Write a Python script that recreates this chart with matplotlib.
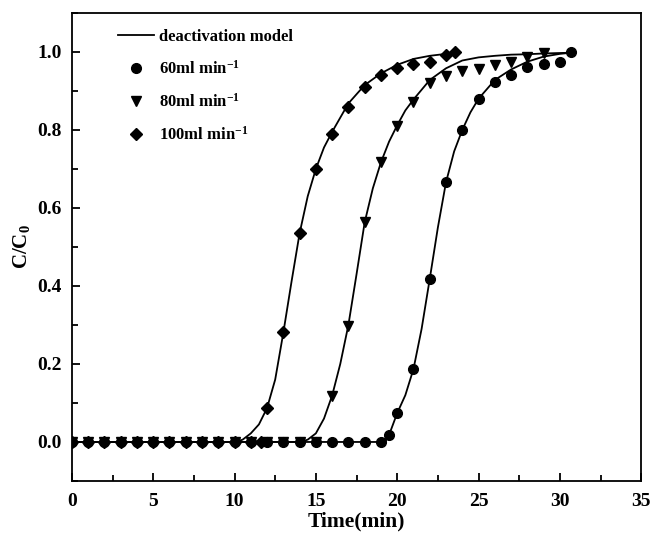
import matplotlib
matplotlib.use("Agg")
import matplotlib.pyplot as plt
from matplotlib.lines import Line2D
from matplotlib.ticker import MultipleLocator

plt.rcParams["font.family"] = "Liberation Serif"
plt.rcParams["font.weight"] = "bold"
plt.rcParams["mathtext.fontset"] = "custom"
plt.rcParams["mathtext.rm"] = "Liberation Serif:bold"
plt.rcParams["mathtext.it"] = "Liberation Serif:bold:italic"
plt.rcParams["mathtext.bf"] = "Liberation Serif:bold"

# measured breakthrough points
t_60 = list(range(0, 20)) + [19.5, 20, 21, 22, 23, 24, 25, 26, 27, 28, 29, 30, 30.7]
c_60 = [0.0] * 20 + [0.018, 0.074, 0.187, 0.418, 0.666, 0.800, 0.880, 0.922,
                     0.942, 0.962, 0.969, 0.975, 1.000]

t_80 = list(range(0, 16)) + [16, 17, 18, 19, 20, 21, 22, 23, 24, 25, 26, 27, 28, 29]
c_80 = [0.0] * 16 + [0.119, 0.298, 0.563, 0.717, 0.810, 0.872, 0.921, 0.938,
                     0.951, 0.956, 0.967, 0.974, 0.987, 0.998]

t_100 = list(range(0, 12)) + [11.6, 12, 13, 14, 15, 16, 17, 18, 19, 20, 21, 22, 23, 23.55]
c_100 = [0.0] * 13 + [0.087, 0.281, 0.535, 0.699, 0.790, 0.858, 0.909, 0.942,
                      0.959, 0.968, 0.974, 0.991, 1.000]

# deactivation model fits
fit_t_60 = [0, 19.25, 19.5, 20, 20.5, 21, 21.5, 22, 22.5, 23, 23.5, 24, 24.5,
            25, 26, 27, 28, 29, 30, 30.7]
fit_c_60 = [0, 0, 0.018, 0.074, 0.12, 0.187, 0.29, 0.418, 0.55, 0.666, 0.745,
            0.80, 0.845, 0.88, 0.928, 0.955, 0.975, 0.988, 0.995, 0.998]

fit_t_80 = [0, 14.1, 14.5, 15, 15.5, 16, 16.5, 17, 17.5, 18, 18.5, 19, 19.5,
            20, 20.5, 21, 22, 23, 24, 25, 26, 27, 28, 29, 30.7]
fit_c_80 = [0, 0, 0.006, 0.022, 0.06, 0.119, 0.20, 0.30, 0.43, 0.563, 0.65,
            0.717, 0.77, 0.812, 0.85, 0.878, 0.928, 0.958, 0.978, 0.986, 0.99,
            0.993, 0.994, 0.996, 0.998]

fit_t_100 = [0, 10.1, 10.5, 11, 11.5, 12, 12.5, 13, 13.5, 14, 14.5, 15, 15.5,
             16, 17, 18, 19, 20, 21, 22, 23, 23.6]
fit_c_100 = [0, 0, 0.006, 0.022, 0.045, 0.087, 0.16, 0.28, 0.41, 0.535, 0.63,
             0.70, 0.755, 0.795, 0.868, 0.915, 0.945, 0.967, 0.982, 0.99, 0.995,
             0.997]

fig = plt.figure(figsize=(6.53, 5.38), dpi=100)
ax = fig.add_axes([0.110, 0.106, 0.872, 0.870])

for ft, fc in [(fit_t_60, fit_c_60), (fit_t_80, fit_c_80), (fit_t_100, fit_c_100)]:
    ax.plot(ft, fc, color="black", lw=1.3, zorder=2)

ax.plot(t_60, c_60, "o", color="black", ms=7, ls="none", zorder=3)
ax.plot(t_80, c_80, "v", color="black", ms=7.5, ls="none", zorder=4)
ax.plot(t_100, c_100, "D", color="black", ms=6, ls="none", zorder=5)

ax.set_xlim(0, 35)
ax.set_ylim(-0.1, 1.1)
ax.xaxis.set_major_locator(MultipleLocator(5))
ax.xaxis.set_minor_locator(MultipleLocator(2.5))
ax.yaxis.set_minor_locator(MultipleLocator(0.1))
ax.set_yticks([0.0, 0.2, 0.4, 0.6, 0.8, 1.0])
ax.set_yticklabels(["0.0", "0.2", "0.4", "0.6", "0.8", "1.0"])

ax.tick_params(which="both", direction="in", width=1.3, labelsize=14)
ax.tick_params(which="major", length=6)
ax.tick_params(which="minor", length=4)
ax.tick_params(axis="x", which="major", pad=9)
ax.tick_params(axis="y", which="major", pad=7)
for sp in ax.spines.values():
    sp.set_linewidth(1.3)

ax.set_xlabel("Time(min)", fontsize=15.5, fontweight="bold", labelpad=1)
ax.set_ylabel("C/C$_0$", fontsize=15, fontweight="bold", labelpad=4)

handles = [
    Line2D([], [], color="black", lw=1.3),
    Line2D([], [], marker="o", color="black", ms=7, ls="none"),
    Line2D([], [], marker="v", color="black", ms=7.5, ls="none"),
    Line2D([], [], marker="D", color="black", ms=6, ls="none"),
]
labels = ["deactivation model", "60ml min$^{-1}$", "80ml min$^{-1}$",
          "100ml min$^{-1}$"]
ax.legend(handles, labels, loc="upper left", bbox_to_anchor=(0.06, 0.99),
          frameon=False, fontsize=12, handlelength=2.2, handletextpad=0.3,
          labelspacing=0.9, borderaxespad=0.3)

fig.savefig("out.png", dpi=100)
